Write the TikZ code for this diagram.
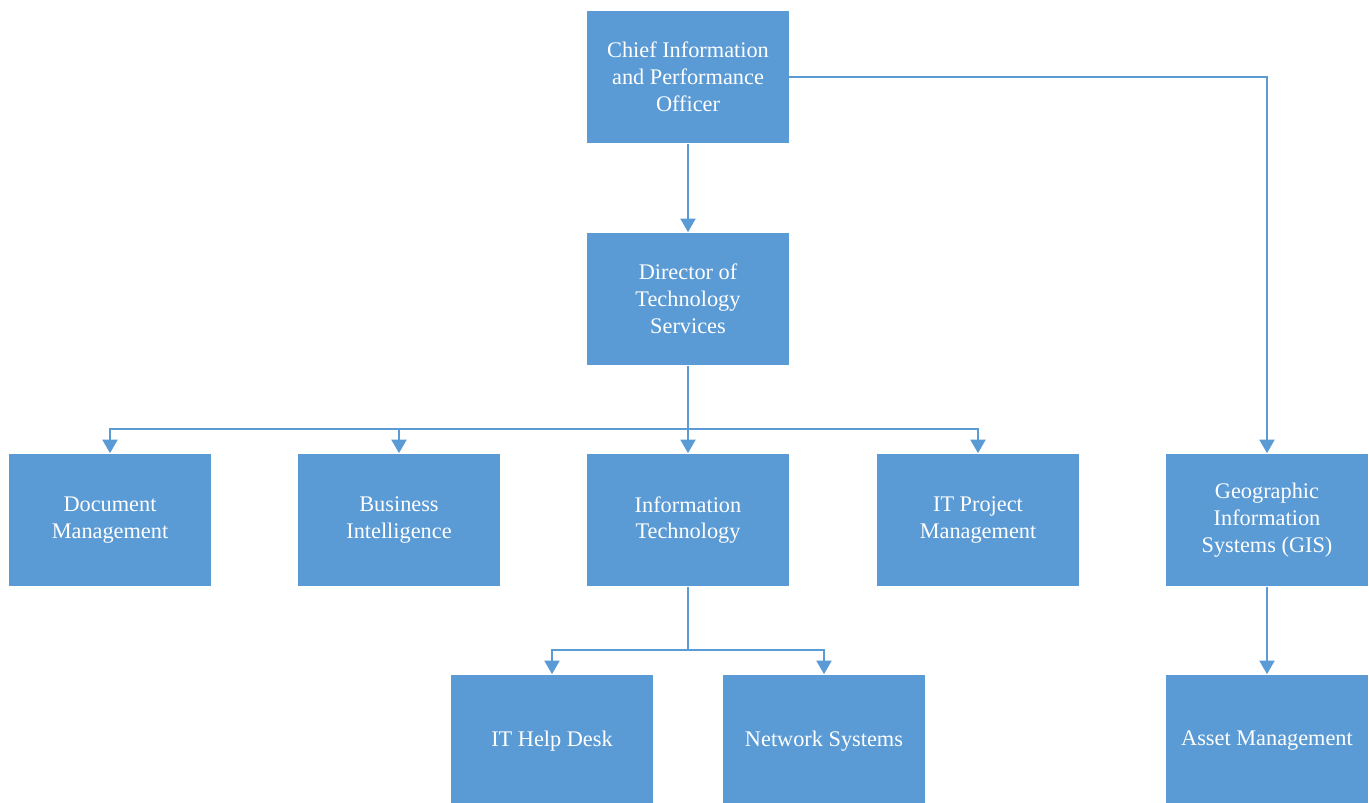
\documentclass[tikz,border=0pt]{standalone}
\usepackage{fontspec}
\setmainfont{Liberation Serif}
\usetikzlibrary{arrows.meta}
\definecolor{unitblue}{HTML}{5B9BD5}

\begin{document}
\begin{tikzpicture}[x=0.02cm, y=-0.02cm]
            \tikzstyle{every node}=[rectangle, fill=unitblue, draw=none, minimum width=4.04cm, minimum height=2.66cm, inner sep=2pt, align=center, text=white, font=\fontsize{12.7}{15.3}\selectfont]
            \tikzstyle{link}=[unitblue, line width=1.1pt, -{Triangle[width=0.3cm, length=0.27cm]}]

            \useasboundingbox (0,0) rectangle (1369,803);

            \node (cio) at (688,77) {Chief Information\\and Performance\\Officer};
            \node (dts) at (688,299) {Director of\\Technology\\Services};
            \node (doc) at (110,520) {Document\\Management};
            \node (bi) at (399,520) {Business\\Intelligence};
            \node (it) at (688,520) {Information\\Technology};
            \node (pm) at (978,520) {IT Project\\Management};
            \node (gis) at (1267,520) {Geographic\\Information\\Systems (GIS)};
            \node (help) at (552,741) {IT Help Desk};
            \node (net) at (824,741) {Network Systems};
            \node (asset) at (1267,741) {Asset Management};

            \coordinate (bus) at (688,429);
            \coordinate (itbus) at (688,650);

            \draw[link] (cio) -- (dts);
            \draw[link] (cio.east) -| (gis.north);
            \draw[link] (gis) -- (asset);
            \draw[link] (dts) -- (it);
            \draw[link] (dts.south) -- (bus) -| (doc.north);
            \draw[link] (bus) -| (bi.north);
            \draw[link] (bus) -| (pm.north);
            \draw[link] (it.south) -- (itbus) -| (help.north);
            \draw[link] (itbus) -| (net.north);
          \end{tikzpicture}
\end{document}
